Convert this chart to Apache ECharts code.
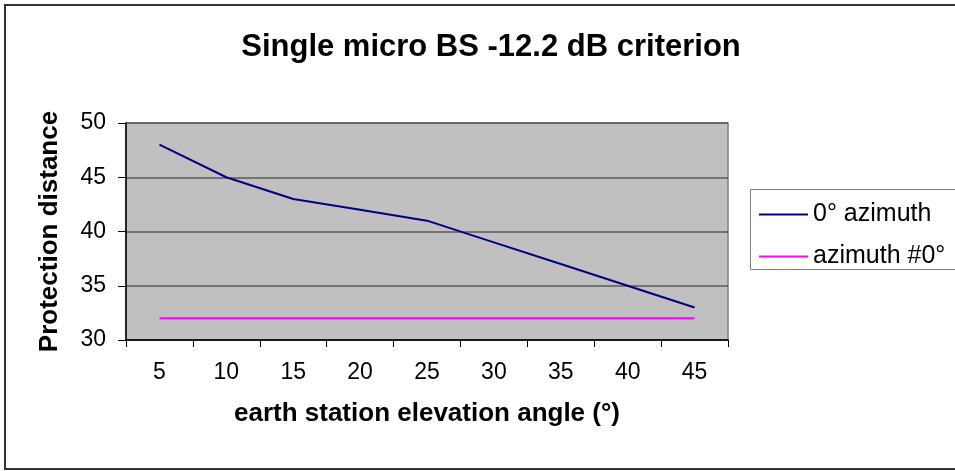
<!DOCTYPE html>
<html>
<head>
<meta charset="utf-8">
<script src="https://cdn.jsdelivr.net/npm/echarts@6/dist/echarts.min.js"></script>
<style>
  html, body { margin: 0; padding: 0; background: #ffffff; }
  #chart { width: 955px; height: 471px; }
</style>
</head>
<body>
<div id="chart"></div>
<script>
// Elevation angles (degrees) along the x axis
const angles = ['5', '10', '15', '20', '25', '30', '35', '40', '45'];
// Protection distance for the boresight (0° azimuth) case
const azimuthZero = [48, 45, 43, 42, 41, 39, 37, 35, 33];
// Protection distance for any other azimuth
const azimuthOther = [32, 32, 32, 32, 32, 32, 32, 32, 32];
// Y axis range
const yMin = 30, yMax = 50, yStep = 5;

const FONT = '"Liberation Sans", Arial, sans-serif';

const chart = echarts.init(document.getElementById('chart'), null, { renderer: 'canvas' });

chart.setOption({
  animation: false,
  backgroundColor: '#ffffff',
  title: {
    text: 'Single micro BS -12.2 dB criterion',
    left: 486,
    top: 27,
    textAlign: 'center',
    textStyle: { fontFamily: FONT, fontSize: 31, fontWeight: 'bold', color: '#000' }
  },
  graphic: [
    // outer chart frame
    { type: 'rect', shape: { x: 5, y: 5, width: 980, height: 464 },
      style: { fill: 'none', stroke: '#333', lineWidth: 2 }, z: 100 },
    // legend frame
    { type: 'rect', shape: { x: 750.5, y: 189.5, width: 260, height: 80 },
      style: { fill: '#fff', stroke: '#808080', lineWidth: 1 }, z: 1 }
  ],
  legend: {
    orient: 'vertical',
    left: 754,
    top: 197,
    icon: 'rect',
    itemWidth: 49,
    itemHeight: 2,
    itemGap: 17,
    z: 10,
    textStyle: { fontFamily: FONT, fontSize: 25, color: '#000' },
    data: ['0° azimuth', 'azimuth #0°']
  },
  grid: {
    left: 126, top: 123, right: 227, bottom: 131,
    show: true,
    backgroundColor: '#c0c0c0',
    borderColor: '#808080',
    borderWidth: 1.5
  },
  xAxis: {
    type: 'category',
    data: angles,
    boundaryGap: true,
    name: 'earth station elevation angle (°)',
    nameLocation: 'middle',
    nameGap: 61,
    nameTextStyle: { fontFamily: FONT, fontSize: 26, fontWeight: 'bold', color: '#000' },
    axisLine: { lineStyle: { color: '#000', width: 1.5 } },
    axisTick: { show: true, length: 7, lineStyle: { color: '#000' } },
    axisLabel: { fontFamily: FONT, fontSize: 23, color: '#000', margin: 21 },
    splitLine: { show: false }
  },
  yAxis: {
    type: 'value',
    min: yMin, max: yMax, interval: yStep,
    name: 'Protection distance',
    nameLocation: 'middle',
    nameGap: 63,
    nameTextStyle: { fontFamily: FONT, fontSize: 26, fontWeight: 'bold', color: '#000' },
    axisLine: { show: true, lineStyle: { color: '#000', width: 1.5 } },
    axisTick: { show: true, length: 8, lineStyle: { color: '#000' } },
    axisLabel: { fontFamily: FONT, fontSize: 23, color: '#000', margin: 20 },
    splitLine: { show: true, lineStyle: { color: '#5a5a5a', width: 1.5 } }
  },
  series: [
    {
      name: '0° azimuth',
      type: 'line',
      data: azimuthZero,
      symbol: 'none',
      lineStyle: { color: '#000080', width: 2 },
      itemStyle: { color: '#000080' }
    },
    {
      name: 'azimuth #0°',
      type: 'line',
      data: azimuthOther,
      symbol: 'none',
      lineStyle: { color: '#ff00ff', width: 2 },
      itemStyle: { color: '#ff00ff' }
    }
  ]
});
</script>
</body>
</html>
